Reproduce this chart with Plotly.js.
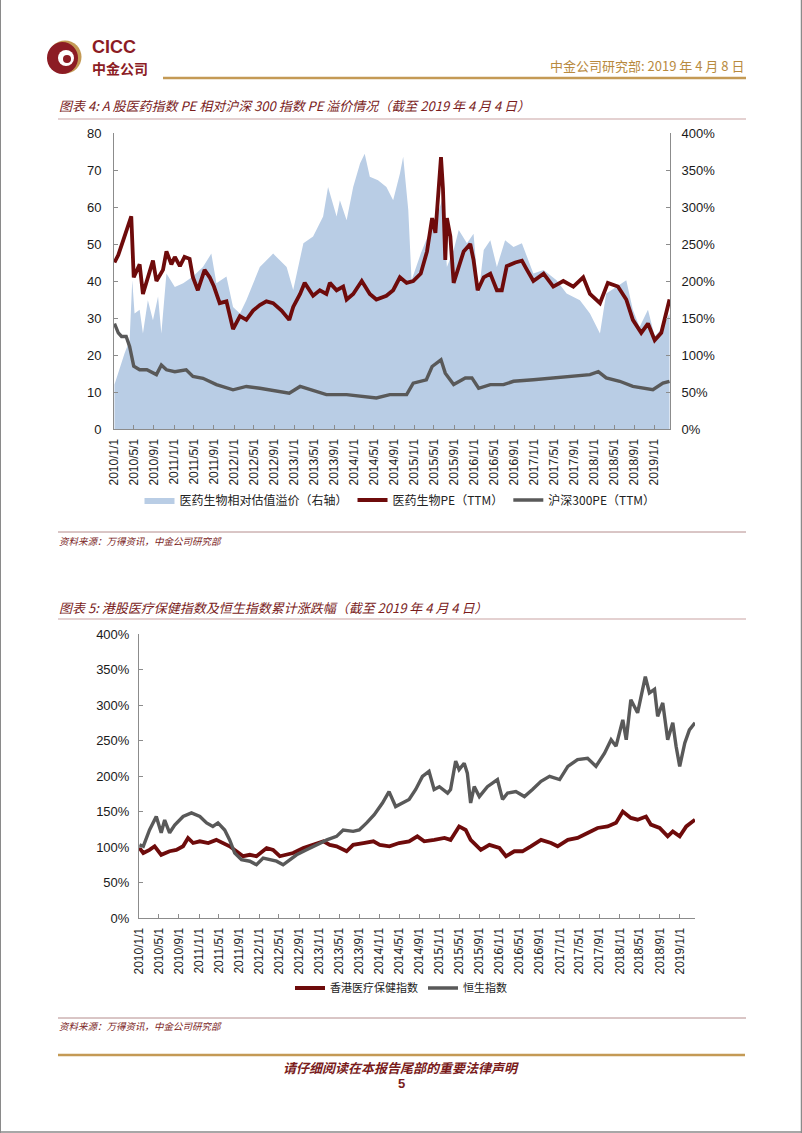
<!DOCTYPE html>
<html><head><meta charset="utf-8">
<script src="https://cdn.plot.ly/plotly-3.0.1.min.js"></script>
<style>html,body{margin:0;padding:0;background:#fff;}#chart{width:802px;height:1133px;}</style>
</head><body><div id="chart"></div>
<script>
// ---------- DATA ----------
const tickDates = ['2010-01-01','2010-05-01','2010-09-01','2011-01-01','2011-05-01','2011-09-01','2012-01-01','2012-05-01','2012-09-01','2013-01-01','2013-05-01','2013-09-01','2014-01-01','2014-05-01','2014-09-01','2015-01-01','2015-05-01','2015-09-01','2016-01-01','2016-05-01','2016-09-01','2017-01-01','2017-05-01','2017-09-01','2018-01-01','2018-05-01','2018-09-01','2019-01-01'];
const tickLabels = ['2010/1/1','2010/5/1','2010/9/1','2011/1/1','2011/5/1','2011/9/1','2012/1/1','2012/5/1','2012/9/1','2013/1/1','2013/5/1','2013/9/1','2014/1/1','2014/5/1','2014/9/1','2015/1/1','2015/5/1','2015/9/1','2016/1/1','2016/5/1','2016/9/1','2017/1/1','2017/5/1','2017/9/1','2018/1/1','2018/5/1','2018/9/1','2019/1/1'];

// Chart 1: 医药生物PE（TTM）
const pePharmaDates = ['2010-01-04','2010-01-27','2010-02-26','2010-03-27','2010-04-16','2010-05-01','2010-06-06','2010-06-26','2010-07-26','2010-08-26','2010-09-16','2010-10-26','2010-11-16','2010-12-16','2011-01-06','2011-02-06','2011-03-06','2011-04-06','2011-04-26','2011-05-26','2011-07-06','2011-08-06','2011-09-01','2011-10-06','2011-11-16','2011-12-26','2012-02-06','2012-03-16','2012-04-26','2012-06-06','2012-07-16','2012-08-26','2012-10-16','2012-12-02','2012-12-26','2013-02-06','2013-03-06','2013-04-26','2013-06-06','2013-07-16','2013-08-06','2013-09-16','2013-10-26','2013-11-16','2013-12-26','2014-02-16','2014-04-06','2014-05-16','2014-07-16','2014-08-26','2014-10-06','2014-11-16','2014-12-26','2015-02-10','2015-03-20','2015-04-20','2015-05-10','2015-05-30','2015-06-13','2015-06-25','2015-07-09','2015-07-19','2015-08-09','2015-08-29','2015-09-29','2015-10-29','2015-12-08','2015-12-28','2016-01-22','2016-02-28','2016-04-08','2016-05-18','2016-06-17','2016-07-17','2016-09-07','2016-10-17','2016-11-17','2016-12-26','2017-02-26','2017-04-26','2017-06-26','2017-08-26','2017-10-25','2017-12-05','2018-02-04','2018-03-24','2018-05-24','2018-07-14','2018-08-23','2018-10-13','2018-11-23','2019-01-03','2019-02-12','2019-03-12','2019-04-03'];
const pePharmaVals = [45,47,51,55,57.5,41,44.5,36.5,41,45.5,40,43,48,44.5,46.5,44,46.5,46,41,37.5,43,41,38.5,34,34.5,27,30.5,29.5,32,33.5,34.5,34,32,29.5,33,36.5,39.5,36,37.5,36.5,39.5,37.5,38.5,35,36.5,40,36.5,35,36,37.5,41,39.5,40,42,48,57,53,65,73.5,65,45.7,57,52,39.5,44,48,50,45.7,37.5,41,42,37.5,37.5,44,45,45.5,43,40,42,38.5,40,38.5,41,36.5,34,39.5,38.5,35,29.5,26,28.5,24,26,30.5,35];

// Chart 1: 沪深300PE（TTM）
const peHS300Dates = ['2010-01-04','2010-01-27','2010-02-16','2010-03-16','2010-04-06','2010-05-01','2010-06-06','2010-07-20','2010-09-16','2010-10-16','2010-11-16','2011-01-06','2011-03-16','2011-04-26','2011-06-26','2011-09-16','2011-12-26','2012-03-16','2012-06-06','2012-09-16','2012-12-02','2013-02-06','2013-05-16','2013-07-16','2013-11-16','2014-02-06','2014-05-16','2014-08-06','2014-11-16','2014-12-26','2015-02-06','2015-03-16','2015-04-20','2015-06-13','2015-07-09','2015-08-29','2015-11-08','2015-12-18','2016-01-28','2016-04-08','2016-06-27','2016-08-27','2016-12-26','2017-04-26','2017-08-26','2017-12-05','2018-01-25','2018-03-14','2018-06-04','2018-08-23','2018-12-23','2019-02-22','2019-04-03'];
const peHS300Vals = [28.5,26,25,25,22.3,17,16,16,14.7,17.3,16,15.5,16,14.2,13.7,12,10.6,11.5,11,10.2,9.7,11.5,10.2,9.3,9.3,8.8,8.4,9.3,9.3,12.4,12.9,13.3,16.9,18.7,15.1,12,13.8,13.8,11,12,12,12.9,13.3,13.8,14.2,14.7,15.5,13.8,12.9,11.5,10.6,12.4,12.9];

// Chart 1: 医药生物相对估值溢价（右轴）, %
const premiumDates = ['2010-01-04','2010-02-06','2010-03-06','2010-04-06','2010-04-22','2010-05-06','2010-06-06','2010-06-26','2010-07-26','2010-08-26','2010-09-26','2010-10-16','2010-11-16','2011-01-06','2011-02-26','2011-04-26','2011-06-26','2011-08-16','2011-09-16','2011-11-16','2011-12-26','2012-02-06','2012-03-16','2012-06-06','2012-08-26','2012-11-16','2012-12-26','2013-02-26','2013-04-26','2013-06-26','2013-07-26','2013-09-16','2013-10-06','2013-11-16','2013-12-26','2014-02-06','2014-03-06','2014-04-06','2014-05-26','2014-07-16','2014-08-26','2014-10-06','2014-10-26','2014-11-26','2014-12-16','2015-02-10','2015-04-09','2015-05-20','2015-06-19','2015-07-19','2015-08-29','2015-09-29','2015-11-18','2015-12-28','2016-01-28','2016-02-28','2016-04-08','2016-05-18','2016-07-07','2016-08-27','2016-10-17','2016-12-26','2017-02-26','2017-05-16','2017-07-16','2017-10-05','2017-12-05','2018-02-04','2018-03-14','2018-05-14','2018-07-14','2018-08-23','2018-10-03','2018-11-23','2019-01-03','2019-02-22','2019-04-03'];
const premiumVals = [60,84,102,120,201,156,161,129,174,147,179,129,210,192,197,206,219,237,197,206,165,156,174,219,237,219,188,251,260,287,327,287,309,282,327,359,372,341,336,327,309,345,368,296,201,237,269,287,309,219,242,269,251,264,183,242,255,219,255,246,251,210,215,201,183,174,156,129,183,192,201,161,138,161,125,138,156];

// Chart 2: 香港医疗保健指数, %
const hkHealthDates = ['2010-01-04','2010-01-27','2010-03-06','2010-04-06','2010-05-16','2010-07-06','2010-08-16','2010-09-26','2010-10-26','2010-11-26','2011-01-06','2011-02-26','2011-04-16','2011-05-26','2011-07-06','2011-08-16','2011-09-26','2011-11-06','2011-12-16','2012-02-16','2012-03-26','2012-05-06','2012-06-16','2012-07-26','2012-09-26','2012-11-26','2013-01-26','2013-03-06','2013-04-16','2013-06-16','2013-07-26','2013-09-26','2013-11-26','2014-01-04','2014-03-04','2014-05-01','2014-07-01','2014-08-20','2014-10-01','2014-12-01','2015-02-01','2015-03-10','2015-05-01','2015-06-10','2015-07-10','2015-09-10','2015-11-01','2016-01-01','2016-02-10','2016-04-01','2016-05-20','2016-07-10','2016-09-10','2016-11-10','2016-12-20','2017-02-20','2017-04-20','2017-06-20','2017-08-20','2017-10-20','2017-12-10','2018-01-20','2018-03-10','2018-04-20','2018-06-10','2018-07-10','2018-09-01','2018-10-20','2018-11-20','2019-01-01','2019-02-10','2019-04-04'];
const hkHealthVals = [98.6,91.5,96,101,89,94,96,101,112.7,105.6,108,105.6,110,105.6,101,94,87,89,87,98.6,96,87,89,91.5,98.6,103,108,103,101,94,103,105.6,108,103,101,105.6,108,115,108,110,112.7,110,129,124,110,96,103,98.6,87,94,94,101,110,105.6,101,110,112.7,119.7,126.8,129,134,150,141,138.5,143,131.5,126.8,115,122,115,129,138.5];

// Chart 2: 恒生指数, %
const hsiDates = ['2010-01-04','2010-01-27','2010-03-06','2010-04-16','2010-05-16','2010-06-06','2010-07-06','2010-08-06','2010-09-26','2010-11-16','2011-01-06','2011-02-16','2011-03-26','2011-04-26','2011-06-06','2011-07-06','2011-08-06','2011-09-16','2011-11-06','2011-12-16','2012-01-26','2012-03-06','2012-04-16','2012-05-26','2012-07-06','2012-08-16','2012-10-16','2012-12-16','2013-02-16','2013-04-16','2013-05-26','2013-07-26','2013-09-01','2013-10-16','2013-12-01','2014-01-20','2014-03-01','2014-04-10','2014-05-20','2014-07-01','2014-08-10','2014-09-20','2014-10-30','2014-11-30','2015-01-01','2015-02-20','2015-03-10','2015-04-10','2015-05-01','2015-06-01','2015-06-20','2015-07-10','2015-08-01','2015-09-01','2015-10-20','2015-12-20','2016-01-20','2016-02-20','2016-04-10','2016-06-01','2016-07-20','2016-09-10','2016-11-01','2017-01-01','2017-02-20','2017-04-20','2017-06-20','2017-08-10','2017-10-01','2017-11-10','2017-12-10','2018-01-20','2018-02-10','2018-03-10','2018-04-20','2018-06-06','2018-07-01','2018-08-01','2018-08-20','2018-09-20','2018-10-20','2018-11-20','2018-12-10','2019-01-01','2019-02-01','2019-03-01','2019-04-04'];
const hsiVals = [103,101,124,143,120,138,120,131,143,148,143,134,129,134,124,110,91.5,82,80,75,84.5,82,80,75,82,89,96,103,110,115,124,122,124,134,145.5,162,178,157,162,167,181,199.5,206.6,181,185,176,181,221,209,218,204,162,185,171,185,195,167,176,178,171,181,192.5,199.5,195,213.6,223,225,213.6,232,251,242,279,251,307.5,289,340,317,322,284,303,251,275,242,213.6,246.5,265,275];

// ---------- STYLE / LAYOUT ----------
const W = 802, H = 1133;
const px = x => x / W, py = y => 1 - y / H;
const RED = '#6e0b0b', GRAY = '#595959', BLUE = '#b9cde5';
const TITLE_RED = '#7a1c1c', GOLD = '#c49a55';
const LATIN = 'Liberation Sans, Arial, sans-serif';
const CJK = 'Noto Sans CJK SC, Liberation Sans, sans-serif';

const traces = [
  {x: premiumDates, y: premiumVals, type: 'scatter', mode: 'lines', fill: 'tozeroy',
   fillcolor: BLUE, line: {width: 0, color: BLUE}, name: '医药生物相对估值溢价（右轴）',
   xaxis: 'x', yaxis: 'y', legend: 'legend'},
  {x: pePharmaDates, y: pePharmaVals, type: 'scatter', mode: 'lines',
   line: {width: 3.8, color: RED}, name: '医药生物PE（TTM）',
   xaxis: 'x', yaxis: 'y2', legend: 'legend'},
  {x: peHS300Dates, y: peHS300Vals, type: 'scatter', mode: 'lines',
   line: {width: 3.4, color: GRAY}, name: '沪深300PE（TTM）',
   xaxis: 'x', yaxis: 'y2', legend: 'legend'},
  {x: hkHealthDates, y: hkHealthVals, type: 'scatter', mode: 'lines',
   line: {width: 3.8, color: RED}, name: '香港医疗保健指数',
   xaxis: 'x2', yaxis: 'y3', legend: 'legend2'},
  {x: hsiDates, y: hsiVals, type: 'scatter', mode: 'lines',
   line: {width: 3.4, color: GRAY}, name: '恒生指数',
   xaxis: 'x2', yaxis: 'y3', legend: 'legend2'}
];

const axisCommon = {showgrid: false, zeroline: false, showline: true, linecolor: '#8c8c8c',
  linewidth: 1, ticks: 'inside', ticklen: 4, tickcolor: '#8c8c8c',
  tickfont: {family: LATIN, size: 13, color: '#1a1a1a'}, fixedrange: true};

const xCommon = Object.assign({}, axisCommon, {type: 'date', tickmode: 'array',
  tickvals: tickDates, ticktext: tickLabels, tickangle: -90,
  tickfont: {family: LATIN, size: 12, color: '#1a1a1a'}, ticklabelstandoff: 4});

const layout = {
  width: W, height: H, margin: {l: 0, r: 0, t: 0, b: 0},
  paper_bgcolor: '#fff', plot_bgcolor: 'rgba(0,0,0,0)', showlegend: true,
  xaxis: Object.assign({}, xCommon, {domain: [px(114), px(670)], anchor: 'y',
    range: ['2010-01-01', '2019-04-06']}),
  yaxis: Object.assign({}, axisCommon, {domain: [py(429), py(133)], anchor: 'x', side: 'right',
    range: [0, 400], dtick: 50, ticksuffix: '%', ticklabelstandoff: 8}),
  yaxis2: Object.assign({}, axisCommon, {overlaying: 'y', anchor: 'x', side: 'left',
    range: [0, 80], dtick: 10, ticklabelstandoff: 9}),
  xaxis2: Object.assign({}, xCommon, {domain: [px(139), px(695)], anchor: 'y3',
    range: ['2010-01-01', '2019-04-04']}),
  yaxis3: Object.assign({}, axisCommon, {domain: [py(918), py(634)], anchor: 'x2', side: 'left',
    range: [0, 400], dtick: 50, ticksuffix: '%', ticklabelstandoff: 6}),
  legend: {orientation: 'h', x: px(400), xanchor: 'center', y: py(500), yanchor: 'middle',
    font: {family: CJK, size: 12, color: '#222'}, bgcolor: 'rgba(0,0,0,0)', traceorder: 'normal',
    itemwidth: 30},
  legend2: {orientation: 'h', x: px(401), xanchor: 'center', y: py(988), yanchor: 'middle',
    font: {family: CJK, size: 11, color: '#222'}, bgcolor: 'rgba(0,0,0,0)', traceorder: 'normal',
    itemwidth: 30},
  shapes: [
    // logo
    {type: 'circle', xref: 'paper', yref: 'paper', x0: px(48.5), x1: px(81.5), y0: py(73.5), y1: py(40.5),
      fillcolor: GOLD, line: {width: 0}},
    {type: 'circle', xref: 'paper', yref: 'paper', x0: px(47), x1: px(78), y0: py(74), y1: py(42),
      fillcolor: '#8c1c24', line: {width: 0}},
    {type: 'circle', xref: 'paper', yref: 'paper', x0: px(58), x1: px(74), y0: py(66), y1: py(50),
      fillcolor: '#ffffff', line: {width: 0}},
    {type: 'circle', xref: 'paper', yref: 'paper', x0: px(63), x1: px(71), y0: py(63), y1: py(55),
      fillcolor: '#8c1c24', line: {width: 0}},
    // header gold line
    {type: 'line', xref: 'paper', yref: 'paper', x0: px(163), x1: px(746), y0: py(78), y1: py(78),
      line: {color: GOLD, width: 2.5}},
    // title 1 underline
    {type: 'line', xref: 'paper', yref: 'paper', x0: px(58), x1: px(746), y0: py(119), y1: py(119),
      line: {color: '#c9a3a3', width: 1}},
    // source 1 line
    {type: 'line', xref: 'paper', yref: 'paper', x0: px(58), x1: px(746), y0: py(532), y1: py(532),
      line: {color: '#b48c8c', width: 1}},
    // title 2 underline
    {type: 'line', xref: 'paper', yref: 'paper', x0: px(58), x1: px(746), y0: py(619), y1: py(619),
      line: {color: '#c9a3a3', width: 1}},
    // source 2 line
    {type: 'line', xref: 'paper', yref: 'paper', x0: px(58), x1: px(746), y0: py(1018), y1: py(1018),
      line: {color: '#b48c8c', width: 1}},
    // footer gold line
    {type: 'line', xref: 'paper', yref: 'paper', x0: px(58), x1: px(745), y0: py(1055), y1: py(1055),
      line: {color: GOLD, width: 2.5}},
    // page border
    {type: 'line', xref: 'paper', yref: 'paper', x0: px(0.5), x1: px(0.5), y0: py(0), y1: py(1133),
      line: {color: '#8a8a8a', width: 1}},
    {type: 'line', xref: 'paper', yref: 'paper', x0: px(801.5), x1: px(801.5), y0: py(0), y1: py(1133),
      line: {color: '#8a8a8a', width: 1.5}},
    {type: 'line', xref: 'paper', yref: 'paper', x0: px(0), x1: px(802), y0: py(1132), y1: py(1132),
      line: {color: '#8a8a8a', width: 1.5}}
  ],
  annotations: [
    {xref: 'paper', yref: 'paper', x: px(90), y: py(47), xanchor: 'left', yanchor: 'middle',
      text: '<b>CICC</b>', showarrow: false, font: {family: LATIN, size: 18, color: '#8c1c24'}},
    {xref: 'paper', yref: 'paper', x: px(90), y: py(68), xanchor: 'left', yanchor: 'middle',
      text: '<b>中金公司</b>', showarrow: false, font: {family: CJK, size: 14, color: '#8c1c24'}},
    {xref: 'paper', yref: 'paper', x: px(746), y: py(66), xanchor: 'right', yanchor: 'middle',
      text: '中金公司研究部: 2019 年 4 月 8 日', showarrow: false, font: {family: CJK, size: 13, color: '#b88a3e'}},
    {xref: 'paper', yref: 'paper', x: px(57), y: py(105), xanchor: 'left', yanchor: 'middle',
      text: '<i>图表 4: A 股医药指数 PE 相对沪深 300 指数 PE 溢价情况（截至 2019 年 4 月 4 日）</i>',
      showarrow: false, font: {family: CJK, size: 13, color: TITLE_RED}},
    {xref: 'paper', yref: 'paper', x: px(57), y: py(541), xanchor: 'left', yanchor: 'middle',
      text: '<i>资料来源：万得资讯，中金公司研究部</i>', showarrow: false,
      font: {family: CJK, size: 9.5, color: TITLE_RED}},
    {xref: 'paper', yref: 'paper', x: px(57), y: py(607), xanchor: 'left', yanchor: 'middle',
      text: '<i>图表 5: 港股医疗保健指数及恒生指数累计涨跌幅（截至 2019 年 4 月 4 日）</i>',
      showarrow: false, font: {family: CJK, size: 13, color: TITLE_RED}},
    {xref: 'paper', yref: 'paper', x: px(57), y: py(1026), xanchor: 'left', yanchor: 'middle',
      text: '<i>资料来源：万得资讯，中金公司研究部</i>', showarrow: false,
      font: {family: CJK, size: 9.5, color: TITLE_RED}},
    {xref: 'paper', yref: 'paper', x: px(401), y: py(1067), xanchor: 'center', yanchor: 'middle',
      text: '<b><i>请仔细阅读在本报告尾部的重要法律声明</i></b>', showarrow: false,
      font: {family: CJK, size: 13, color: TITLE_RED}},
    {xref: 'paper', yref: 'paper', x: px(401), y: py(1083), xanchor: 'center', yanchor: 'middle',
      text: '<b>5</b>', showarrow: false, font: {family: LATIN, size: 13, color: TITLE_RED}}
  ]
};

Plotly.newPlot('chart', traces, layout, {staticPlot: true, displayModeBar: false});
</script>
</body></html>
